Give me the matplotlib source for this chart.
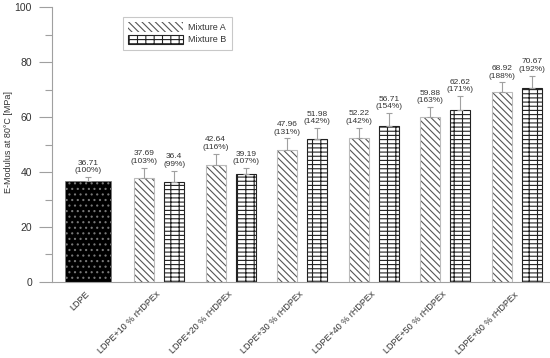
import matplotlib
matplotlib.use("Agg")
import matplotlib.pyplot as plt
import numpy as np

plt.rcParams['font.family'] = ['Liberation Sans', 'DejaVu Sans']
plt.rcParams['hatch.linewidth'] = 0.8

categories = ['LDPE', 'LDPE+10 % rHDPEx', 'LDPE+20 % rHDPEx', 'LDPE+30 % rHDPEx',
              'LDPE+40 % rHDPEx', 'LDPE+50 % rHDPEx', 'LDPE+60 % rHDPEx']
ldpe_val = 36.71
ldpe_err = 1.4
ldpe_pct = 100
mix_a = [37.69, 42.64, 47.96, 52.22, 59.88, 68.92]
mix_a_err = [3.8, 3.9, 4.3, 3.8, 3.7, 3.7]
mix_a_pct = [103, 116, 131, 142, 163, 188]
mix_b = [36.4, 39.19, 51.98, 56.71, 62.62, 70.67]
mix_b_err = [4.0, 2.2, 4.0, 4.7, 5.0, 4.3]
mix_b_pct = [99, 107, 142, 154, 171, 192]

grey = '#a0a0a0'
txt = '#333333'

fig = plt.figure(figsize=(5.5, 3.58), dpi=100)
ax = fig.add_axes([0.0945, 0.2123, 0.9035, 0.7681])

x = np.arange(len(categories))
xm = x[1:]
off = 0.21
w = 0.28

err_kw = dict(ecolor=grey, elinewidth=0.8, capsize=2.5, capthick=0.8)

ax.bar(0, ldpe_val, 0.64, color='black', edgecolor='#777777', hatch='...', linewidth=0.5,
       yerr=[[0], [ldpe_err]], error_kw=err_kw)
ax.bar(xm - off, mix_a, w, color='white', edgecolor='#555555', hatch='\\\\\\\\\\', linewidth=0,
       yerr=[np.zeros(6), mix_a_err], error_kw=err_kw, label='Mixture A')
ax.bar(xm - off, mix_a, w, fill=False, edgecolor='#bbbbbb', linewidth=0.8)
ax.bar(xm + off, mix_b, w, color='white', edgecolor='#222222', hatch='----||', linewidth=0.8,
       yerr=[np.zeros(6), mix_b_err], error_kw=err_kw, label='Mixture B')

def label(xp, v, e, p):
    ax.annotate(f"{v:g}\n({p}%)", (xp, v + e), xytext=(0, 2), textcoords='offset points',
                ha='center', va='bottom', fontsize=6, color=txt, linespacing=1.15)

label(0, ldpe_val, ldpe_err, ldpe_pct)
for i in range(6):
    label(xm[i] - off, mix_a[i], mix_a_err[i], mix_a_pct[i])
    label(xm[i] + off, mix_b[i], mix_b_err[i], mix_b_pct[i])

ax.set_xlim(-0.5, 6.45)
ax.set_ylim(0, 100)
ax.set_yticks([0, 20, 40, 60, 80, 100])
ax.set_yticks([10, 30, 50, 70, 90], minor=True)
ax.tick_params(axis='y', which='major', length=9.4, width=0.8, color=grey, labelsize=7.5, labelcolor=txt, pad=5)
ax.tick_params(axis='y', which='minor', length=5, width=0.8, color=grey)
ax.set_xticks(x)
ax.set_xticklabels(categories, rotation=45, ha='right', va='center', rotation_mode='anchor',
                   fontsize=6.5, color=txt)
ax.tick_params(axis='x', length=0, pad=8)
for s in ['top', 'right']:
    ax.spines[s].set_visible(False)
for s in ['left', 'bottom']:
    ax.spines[s].set_color(grey)
    ax.spines[s].set_linewidth(0.8)
ax.set_ylabel('E-Modulus at 80°C [MPa]', fontsize=6.5, color=txt)
ax.yaxis.set_label_coords(-0.078, 0.51)

leg = ax.legend(loc='upper left', bbox_to_anchor=(0.143, 0.964), borderaxespad=0, fontsize=6.5,
                fancybox=False, edgecolor='#bbbbbb', handlelength=6, handleheight=1.2, borderpad=0.6,
                labelspacing=0.3, handletextpad=0.6)
leg.get_frame().set_linewidth(0.8)
for t in leg.get_texts():
    t.set_color(txt)

fig.savefig('out.png', dpi=100)
